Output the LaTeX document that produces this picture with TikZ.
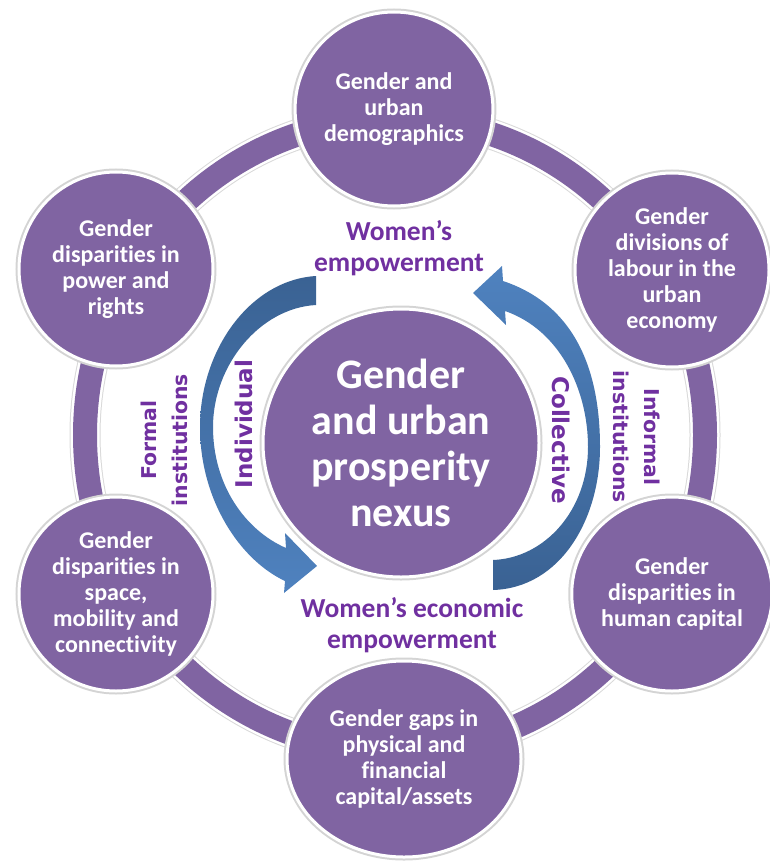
\documentclass[tikz,border=0pt]{standalone}
\usepackage{fontspec}
\setmainfont{Carlito}[Ligatures=NoCommon]
\newfontfamily\dvs{DejaVu Sans}[Ligatures=NoCommon]
\usetikzlibrary{shapes.geometric}
\definecolor{cpurple}{HTML}{8064A2}
\definecolor{clabel}{HTML}{7030A0}
\definecolor{cbluedark}{HTML}{3A6293}
\definecolor{cbluelight}{HTML}{4F82BF}
\begin{document}
\begin{tikzpicture}[x=1pt,y=-1pt,
  bub/.style={ellipse, fill=cpurple, draw=white, line width=3pt,
    minimum width=194pt, minimum height=194pt, inner sep=0pt, align=center,
    text=white, font=\bfseries\fontsize{24}{26}\selectfont,
    preaction={draw=black!17, line width=7pt}},
  lab/.style={align=center, text=clabel, inner sep=0pt,
    font=\bfseries\fontsize{27.5}{31}\selectfont},
  rlab/.style={align=center, text=clabel, inner sep=0pt,
    font=\dvs\bfseries\fontsize{20.4}{31}\selectfont},
  rlabb/.style={align=center, text=clabel, inner sep=0pt,
    font=\dvs\bfseries\fontsize{23}{28}\selectfont},
  ringline/.style={line width=#1}
]
\useasboundingbox (0,0) rectangle (769,861);
% ring
\coordinate (rc) at (395,435);
\draw[black!15, ringline=31pt] (rc) ellipse [x radius=310, y radius=316.5];
\draw[white, ringline=29pt] (rc) ellipse [x radius=310, y radius=316.5];
\draw[cpurple, ringline=24pt] (rc) ellipse [x radius=310, y radius=316.5];
% outer circles
\node[bub] (top) at (394,109) {Gender and\\urban\\demographics};
\node[bub] (ul) at (116,269) {Gender\\disparities in\\power and\\rights};
\node[bub] (ur) at (672,270) {Gender\\divisions of\\labour in the\\urban\\economy};
\node[bub] (ll) at (116,594) {Gender\\disparities in\\space,\\mobility and\\connectivity};
\node[bub] (lr) at (672,594) {Gender\\disparities in\\human capital};
\node[bub, minimum width=234pt, minimum height=196pt] (bot) at (404,759)
  {Gender gaps in\\physical and\\financial\\capital/assets};
% centre
\node[bub, minimum width=276pt, minimum height=268pt,
  font=\bfseries\fontsize{42}{46}\selectfont] (hub) at (401,443)
  {Gender\\and urban\\prosperity\\nexus};
% arrows
\shade[top color=cbluedark, bottom color=cbluelight]
  (316,276) .. controls (250,280) and (200,350) .. (200,427)
  .. controls (200,500) and (240,560) .. (285,581)
  -- (284,593) -- (317,566) -- (285,533) -- (286,548)
  .. controls (245,530) and (213,485) .. (213,427)
  .. controls (213,365) and (260,308) .. (316,305) -- cycle;
\shade[top color=cbluelight, bottom color=cbluedark]
  (493,590) .. controls (560,588) and (600,520) .. (600,447)
  .. controls (600,370) and (575,305) .. (503,281)
  -- (502,266) -- (473,293) -- (506,325) -- (505,311)
  .. controls (560,330) and (588,390) .. (588,447)
  .. controls (588,510) and (545,558) .. (493,560) -- cycle;
% labels
\node[lab] (we) at (399,248) {Women’s\\empowerment};
\node[lab] (wee) at (412,625) {Women’s economic\\empowerment};
\node[rlab, rotate=90] (formal) at (164,440) {Formal\\institutions};
\node[rlab, rotate=-90] (informal) at (637,437) {Informal\\institutions};
\node[rlabb, rotate=90] (indiv) at (244,424) {Individual};
\node[rlabb, rotate=-90] (coll) at (561,440) {Collective};
\end{tikzpicture}
\end{document}
